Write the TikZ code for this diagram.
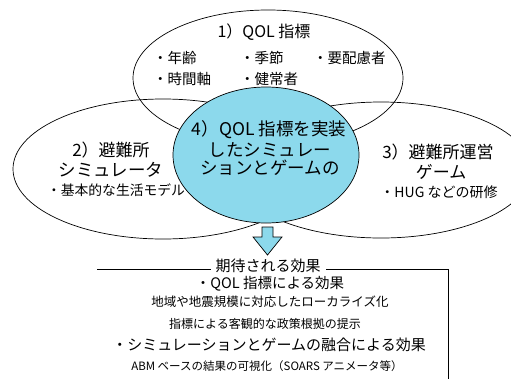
\documentclass[tikz,border=0pt]{standalone}
\usepackage{fontspec}
\setmainfont{Noto Sans CJK JP}
\definecolor{lblue}{RGB}{140,217,236}
\tikzset{
  fs/.style={font=\fontsize{#1}{#1}\selectfont, inner sep=0pt},
  ring/.style={draw=black, line width=0.7pt},
}
\begin{document}
\begin{tikzpicture}[x=1pt,y=-1pt]
\clip (0,0) rectangle (511,378);
\fill[white] (0,0) rectangle (511,378);
% ellipses
\draw[ring] (268,78) ellipse [x radius=135, y radius=68];
\draw[ring] (163,169) ellipse [x radius=150, y radius=70];
\draw[ring] (381,170) ellipse [x radius=150, y radius=68];
\draw[ring, fill=lblue] (266,155) ellipse [x radius=93, y radius=68];
% top ellipse texts
\node[fs=16] (t1) at (264,32) {1）QOL 指標};
\node[fs=14.5, anchor=west] (a1) at (153,58) {・年齢};
\node[fs=14.5, anchor=west] (a2) at (240,58) {・季節};
\node[fs=14.5, anchor=west] (a3) at (313,58) {・要配慮者};
\node[fs=14.5, anchor=west] (a4) at (153,79) {・時間軸};
\node[fs=14.5, anchor=west] (a5) at (240,79) {・健常者};
% left
\node[fs=17] (l1) at (111,150) {2）避難所};
\node[fs=17.5] (l2) at (111,170) {シミュレータ};
\node[fs=13.8] (l3) at (116,190) {・基本的な生活モデル};
% right
\node[fs=17] (r1) at (438,152) {3）避難所運営};
\node[fs=17] (r2) at (441,172) {ゲーム};
\node[fs=14] (r3) at (439,192) {・HUG などの研修};
% centre
\node[fs=17.5] (c1) at (269,130) {4）QOL 指標を実装};
\node[fs=17.5] (c2) at (270,150) {したシミュレー};
\node[fs=17.5] (c3) at (270,168) {ションとゲームの};
% arrow
\draw[line width=0.7pt, fill=lblue] (262,227) -- (273,227) -- (273,237) -- (282,237)
  -- (267.5,255) -- (253,237) -- (262,237) -- cycle;
% box
\draw[line width=0.7pt] (97,269) -- (448,269) -- (448,400);
\node[fs=15, fill=white, inner xsep=5pt, inner ysep=1pt] (b0) at (268,266) {期待される効果};
\node[fs=14.5] (b1) at (270,284) {・QOL 指標による効果};
\node[fs=12.5] (b2) at (270,302) {地域や地震規模に対応したローカライズ化};
\node[fs=12] (b3) at (265,324) {指標による客観的な政策根拠の提示};
\node[fs=15] (b4) at (269,345) {・シミュレーションとゲームの融合による効果};
\node[fs=11.5] (b5) at (267,366) {ABM ベースの結果の可視化（SOARS アニメータ等）};
\end{tikzpicture}
\end{document}
